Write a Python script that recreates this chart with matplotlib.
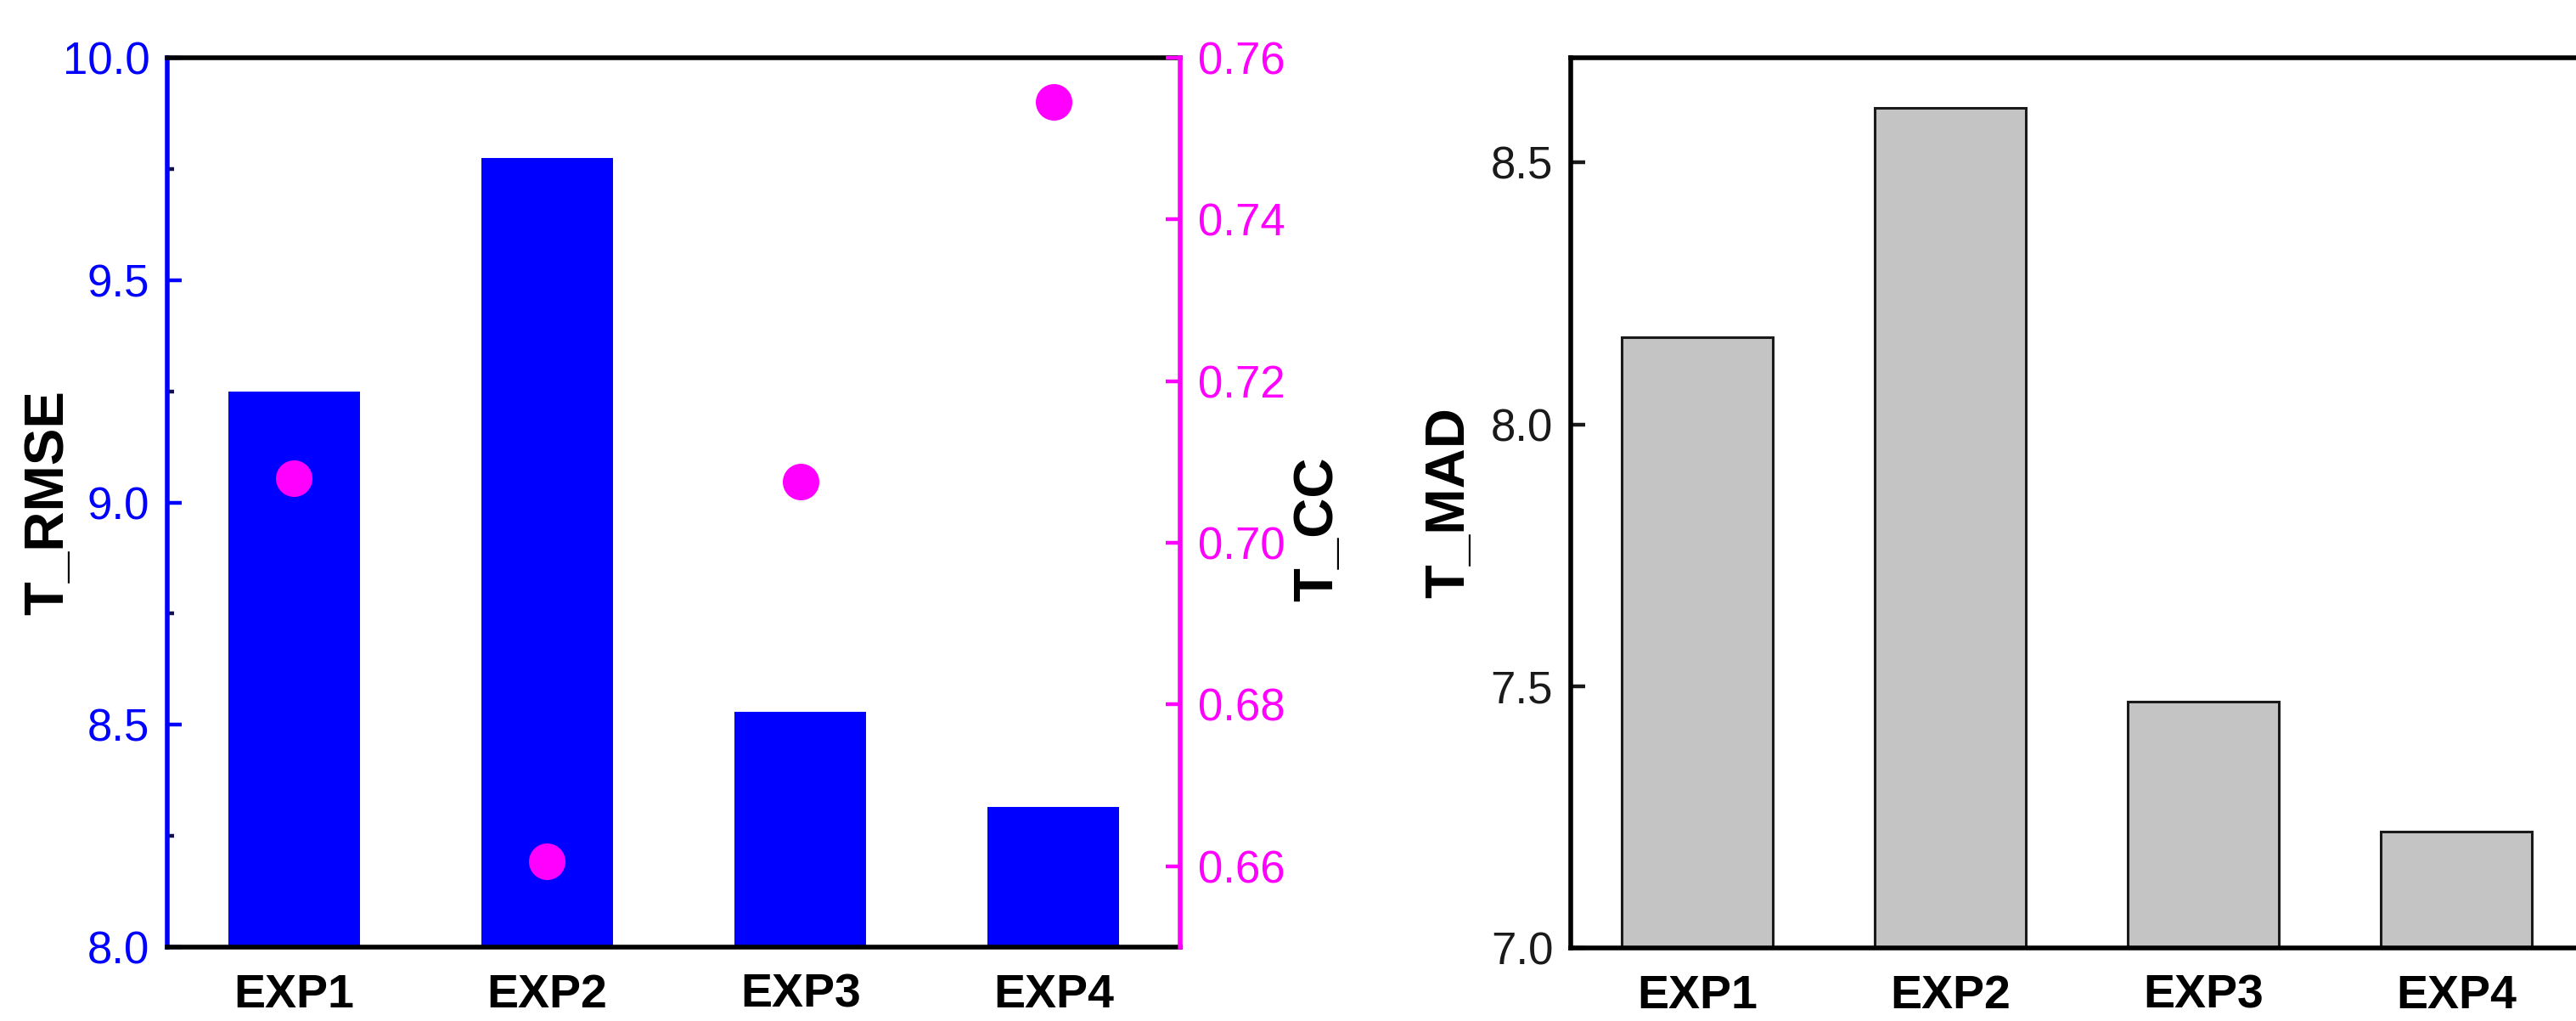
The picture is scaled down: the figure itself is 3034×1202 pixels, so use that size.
import matplotlib
matplotlib.use("Agg")
import matplotlib.pyplot as plt
from matplotlib.ticker import MultipleLocator, FormatStrFormatter

plt.rcParams['font.family'] = ['Liberation Sans', 'DejaVu Sans']

# data
experiments = ["EXP1", "EXP2", "EXP3", "EXP4"]
t_rmse = [9.25, 9.775, 8.53, 8.315]
t_cc = [0.708, 0.6606, 0.7076, 0.7545]
t_mad = [8.167, 8.605, 7.47, 7.222]

blue = "#0000ff"
magenta = "#ff00ff"
W, H = 3034, 1202
dpi = 100

fig = plt.figure(figsize=(W / dpi, H / dpi), dpi=dpi)

def frac(x0, y0, x1, y1):
    # pixel box (top-left origin) -> figure fraction
    return [x0 / W, 1 - y1 / H, (x1 - x0) / W, (y1 - y0) / H]

spine_w = 4.0
tick_kw = dict(direction="in", length=12, width=3.2, pad=15, labelsize=38)

# ---- left panel: RMSE bars + CC dots
ax1 = fig.add_axes(frac(197, 68, 1390, 1115))
x = list(range(len(experiments)))
ax1.bar(x, t_rmse, width=0.52, color=blue, edgecolor="none", zorder=2)
ax1.set_xlim(-0.5, 3.5)
ax1.set_ylim(8.0, 10.0)
ax1.yaxis.set_major_locator(MultipleLocator(0.5))
ax1.yaxis.set_minor_locator(MultipleLocator(0.25))
ax1.yaxis.set_major_formatter(FormatStrFormatter("%.1f"))
ax1.tick_params(axis="y", colors=blue, **tick_kw)
ax1.tick_params(axis="y", which="minor", direction="in", length=6, width=3.2, color="#10104a")
ax1.tick_params(axis="x", length=0, pad=22, labelsize=40)
ax1.set_xticks(x)
ax1.set_xticklabels(experiments, fontweight="bold")
for s in ax1.spines.values():
    s.set_linewidth(spine_w)
ax1.spines["left"].set_color(blue)
ax1.spines["right"].set_visible(False)
ax1.set_ylabel("T_RMSE", fontsize=47, fontweight="bold", va="center")
ax1.yaxis.set_label_coords((57 - 197) / 1193, 0.5)

ax2 = ax1.twinx()
ax2.plot(x, t_cc, "o", color=magenta, markersize=31, markeredgewidth=0, zorder=3)
ax2.set_ylim(0.65, 0.76)
ax2.yaxis.set_major_locator(MultipleLocator(0.02))
ax2.yaxis.set_major_formatter(FormatStrFormatter("%.2f"))
ax2.tick_params(axis="y", colors=magenta, **tick_kw)
for name, s in ax2.spines.items():
    s.set_linewidth(spine_w)
    if name != "right":
        s.set_visible(False)
ax2.spines["right"].set_color(magenta)
ax2.set_ylabel("T_CC", fontsize=47, fontweight="bold", va="center", rotation=90)
ax2.yaxis.set_label_coords((1552 - 197) / 1193, 0.47)

# ---- right panel: MAD bars (right edge cropped in the original)
ax3 = fig.add_axes(frac(1850, 68, W, 1116))
ax3.bar(x, t_mad, width=0.6, color="#c4c4c4", edgecolor="#1a1a1a", linewidth=2.2, zorder=2)
ax3.set_xlim(-0.5, -0.5 + (W - 1850) / 298)
ax3.set_ylim(7.0, 8.7)
ax3.yaxis.set_major_locator(MultipleLocator(0.5))
ax3.yaxis.set_major_formatter(FormatStrFormatter("%.1f"))
ax3.tick_params(axis="y", colors="#1a1a1a", **tick_kw)
ax3.tick_params(axis="x", length=0, pad=22, labelsize=40)
ax3.set_xticks(x)
ax3.set_xticklabels(experiments, fontweight="bold")
for s in ax3.spines.values():
    s.set_linewidth(spine_w)
ax3.spines["right"].set_visible(False)
ax3.set_ylabel("T_MAD", fontsize=47, fontweight="bold", va="center")
ax3.yaxis.set_label_coords((1707 - 1850) / 1184, 0.5)

fig.savefig("out.png", dpi=dpi)
